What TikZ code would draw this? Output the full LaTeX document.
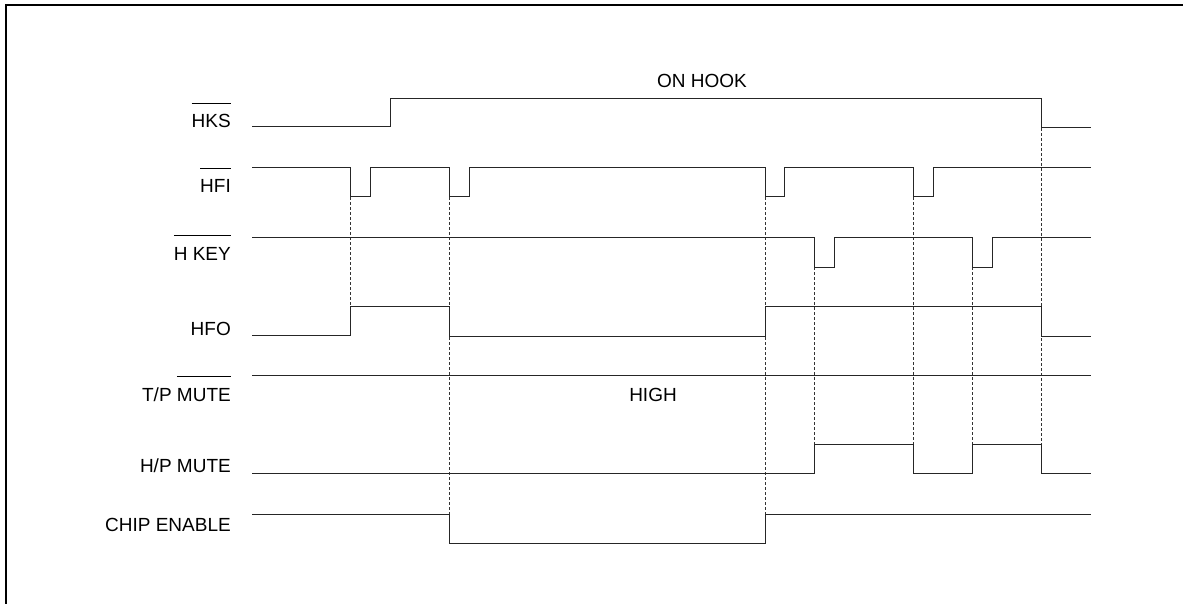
\documentclass[tikz,border=0pt]{standalone}
\usepackage{fontspec}
\setmainfont{Liberation Sans}
\newsavebox\lblbox
\newcommand{\barred}[1]{\sbox\lblbox{#1}\rlap{\rule[24pt]{\wd\lblbox}{1pt}}\usebox\lblbox}
\tikzset{
	wave/.style={line width=1pt,black!85},
	guide/.style={line width=0.7pt,dash pattern=on 3pt off 2pt,black!80},
	lbl/.style={anchor=base east,inner sep=0pt,font=\fontsize{19}{22}\selectfont},
	txt/.style={anchor=base,inner sep=0pt,font=\fontsize{19}{22}\selectfont}
}
\begin{document}
\begin{tikzpicture}[x=1pt,y=-1pt]
		\useasboundingbox (0,0) rectangle (1183,604);
		\draw[line width=2.5pt] (6,604)--(6,5)--(1183,5);
		% signal names
		\node[lbl] (hks) at (231,128) {\barred{HKS}};
		\node[lbl] (hfi) at (231,193) {\barred{HFI}};
		\node[lbl] (hkey) at (231,260) {\barred{H KEY}};
		\node[lbl] (hfo) at (231,335) {HFO};
		\node[lbl] (tpmute) at (231,401) {T/P \barred{MUTE}};
		\node[lbl] (hpmute) at (231,472) {H/P MUTE};
		\node[lbl] (chipen) at (231,531) {CHIP ENABLE};
		\node[txt] (onhook) at (702,88) {ON HOOK};
		\node[txt] (high) at (653,401) {HIGH};
		% guide lines
		\foreach \x/\a/\b in {350/197/306,449/197/514,765/197/514,814/267/444,913/197/444,972/267/444,1041/128/444}
			\draw[guide] (\x,\a)--(\x,\b);
		% waveforms
		\draw[wave] (252,127) -| (390,99) -| (1041,128) -- (1091,128);
		\draw[wave] (252,168) -| (350,197) -| (370,168) -| (449,197) -| (469,168) -| (765,197) -| (784,168) -| (913,197) -| (933,168) -- (1091,168);
		\draw[wave] (252,237) -| (814,267) -| (834,237) -| (972,267) -| (992,237) -- (1091,237);
		\draw[wave] (252,335) -| (350,306) -| (449,336) -| (765,306) -| (1041,336) -- (1091,336);
		\draw[wave] (252,375) -- (1091,375);
		\draw[wave] (252,473) -| (814,444) -| (913,473) -| (972,444) -| (1041,473) -- (1091,473);
		\draw[wave] (252,514) -| (449,543) -| (765,514) -- (1091,514);
	\end{tikzpicture}
\end{document}
